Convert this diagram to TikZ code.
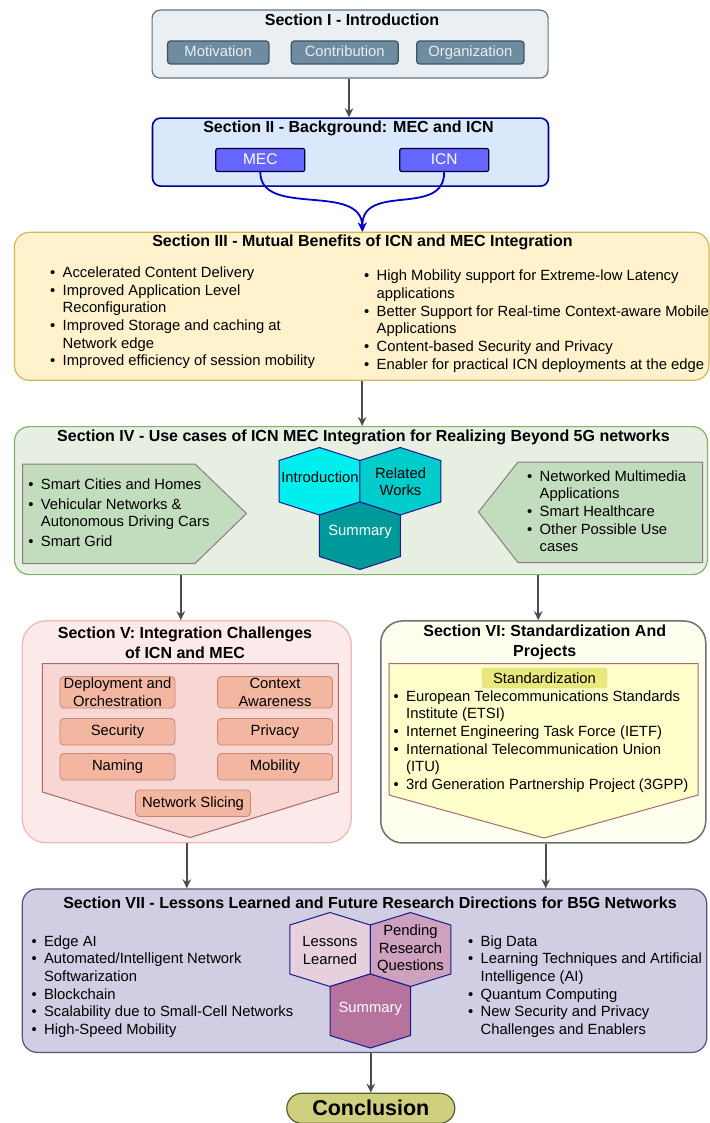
\documentclass[tikz,border=0pt]{standalone}
\usepackage{fontspec}
\setmainfont{Liberation Sans}
\usetikzlibrary{arrows.meta,calc}
\definecolor{cIf}{HTML}{EBEFF2}\definecolor{cId}{HTML}{5B7487}
\definecolor{cSubf}{HTML}{6F8BA0}\definecolor{cSubd}{HTML}{3B5468}\definecolor{cSubt}{HTML}{E8EEF2}
\definecolor{cIIf}{HTML}{DAE8FC}\definecolor{cIId}{HTML}{000099}
\definecolor{cMecf}{HTML}{6666FF}\definecolor{cMecd}{HTML}{000033}
\definecolor{cCurve}{HTML}{0000CC}
\definecolor{cIIIf}{HTML}{FFF2CC}\definecolor{cIIId}{HTML}{D6B656}
\definecolor{cIVf}{HTML}{E6EFE2}\definecolor{cIVd}{HTML}{82B366}
\definecolor{cPentf}{HTML}{C2DDBD}\definecolor{cPentd}{HTML}{8F7A78}
\definecolor{cHexd}{HTML}{1A1A8C}
\definecolor{cIntro}{HTML}{00EEEE}\definecolor{cRel}{HTML}{00CCCC}\definecolor{cSumA}{HTML}{009999}
\definecolor{cVf}{HTML}{FBEAE9}\definecolor{cVd}{HTML}{EBB8B5}
\definecolor{cVinf}{HTML}{F8D6D4}\definecolor{cInd}{HTML}{A86A6A}
\definecolor{cVboxf}{HTML}{F3B7A1}\definecolor{cVboxd}{HTML}{C28673}
\definecolor{cVIf}{HTML}{FFFFF0}\definecolor{cVId}{HTML}{6E6E6E}
\definecolor{cVIinf}{HTML}{FFFFCC}
\definecolor{cStdf}{HTML}{E8E87D}\definecolor{cStdd}{HTML}{D9D96C}
\definecolor{cVIIf}{HTML}{D0CEE2}\definecolor{cVIId}{HTML}{56517E}
\definecolor{cLes}{HTML}{E6D0DE}\definecolor{cPen}{HTML}{CDA2BE}\definecolor{cSumB}{HTML}{B5739D}
\definecolor{cConf}{HTML}{CFCF80}\definecolor{cCond}{HTML}{5C5C2A}
\definecolor{cArr}{HTML}{4D4D4D}
\newcommand{\bl}{\rule{0pt}{12.4pt}\makebox[12.5pt][l]{\textbullet}}
\newcommand{\ind}{\hspace*{12.5pt}}
\begin{document}
\begin{tikzpicture}[x=1pt,y=-1pt,
  every node/.style={inner sep=0pt},
  secbox/.style={anchor=north west, line width=1.2pt},
  ttl/.style={font=\fontsize{16}{19.6}\selectfont\bfseries, align=center},
  lst/.style={anchor=north west, align=left, font=\fontsize{14.8}{17.7}\selectfont},
  subI/.style={draw=cSubd, fill=cSubf, text=cSubt, line width=1.2pt, rounded corners=3pt, minimum height=23pt, text height=10.6pt, text depth=3.1pt, font=\fontsize{14.8}{17.7}\selectfont},
  mecbox/.style={draw=cMecd, fill=cMecf, text=white, line width=1.2pt, rounded corners=2pt, minimum width=89pt, minimum height=23pt, text height=11pt, text depth=1.5pt, font=\fontsize{15.5}{18}\selectfont},
  vbox/.style={draw=cVboxd, fill=cVboxf, line width=0.8pt, rounded corners=4pt, minimum width=115pt, align=center, font=\fontsize{14.8}{17.5}\selectfont},
  hexs/.style={draw=cHexd, line width=1pt},
  hext/.style={align=center, font=\fontsize{14.8}{17.5}\selectfont},
  pent/.style={draw=cPentd, fill=cPentf, line width=1pt},
  inner/.style={draw=cInd, line width=1pt},
  arr/.style={draw=cArr, line width=1.6pt, -{Stealth[length=9pt,width=8.5pt]}},
  barr/.style={draw=cCurve, line width=1.8pt, -{Stealth[length=9pt,width=8.5pt]}}]
\useasboundingbox[fill=white] (0,0) rectangle (709,1123);

% ---------- Section I
\node[secbox, fill=cIf, draw=cId, rounded corners=8pt, minimum width=396pt, minimum height=68pt] (s1) at (151.5,9.5) {};
\node[ttl] (t1) at (352,20) {Section I - Introduction};
\node[subI, minimum width=101.5pt] (mot) at (218.2,52.5) {Motivation};
\node[subI, minimum width=107pt] (con) at (344.7,52.5) {Contribution};
\node[subI, minimum width=107.3pt] (org) at (470.3,52.5) {Organization};

% ---------- Section II
\node[secbox, fill=cIIf, draw=cIId, line width=1.6pt, rounded corners=8pt, minimum width=396pt, minimum height=68pt] (s2) at (151.7,117.3) {};
\node[ttl] (t2) at (348.5,128) {Section II - Background: MEC and ICN};
\node[mecbox] (mec) at (260.3,160) {MEC};
\node[mecbox] (icn) at (444.2,160) {ICN};

% ---------- Section III
\node[secbox, fill=cIIIf, draw=cIIId, rounded corners=15pt, minimum width=694.5pt, minimum height=148pt] (s3) at (13.8,231.7) {};
\node[ttl] (t3) at (362.5,242) {Section III - Mutual Benefits of ICN and MEC Integration};
\node[lst] (l3a) at (50,264.8) {\bl Accelerated Content Delivery\\
\bl Improved Application Level\\ \ind Reconfiguration\\
\bl Improved Storage and caching at\\ \ind Network edge\\
\bl Improved efficiency of session mobility};
\node[lst] (l3b) at (364,268.2) {\bl High Mobility support for Extreme-low Latency\\ \ind applications\\
\bl Better Support for Real-time Context-aware Mobile\\ \ind Applications\\
\bl Content-based Security and Privacy\\
\bl Enabler for practical ICN deployments at the edge};

% blue curves
\draw[barr] (mec.south) .. controls ([yshift=-46pt]mec.south) and ([yshift=50pt]s3.north) .. ([xshift=0.75pt]s3.north);
\draw[barr] (icn.south) .. controls ([yshift=-46pt]icn.south) and ([yshift=50pt]s3.north) .. ([xshift=0.75pt]s3.north);

% ---------- Section IV
\node[secbox, fill=cIVf, draw=cIVd, rounded corners=15pt, minimum width=693pt, minimum height=148pt] (s4) at (13.8,426) {};
\node[ttl] (t4) at (363.5,437) {Section IV - Use cases of ICN MEC Integration for Realizing Beyond 5G networks};
\draw[pent] (22.5,464) -- (195,464) -- (246.5,513.5) -- (195,563.5) -- (22.5,563.5) -- cycle;
\draw[pent] (478.5,512) -- (518,462) -- (702.5,462) -- (702.5,562.5) -- (518,562.5) -- cycle;
\node[lst] (l4a) at (28.2,476.8) {\bl Smart Cities and Homes\\[2pt]
\bl Vehicular Networks \&\\ \ind Autonomous Driving Cars\\[2pt]
\bl Smart Grid};
\node[lst] (l4b) at (527,468.5) {\bl Networked Multimedia\\ \ind Applications\\
\bl Smart Healthcare\\
\bl Other Possible Use\\ \ind cases};
\draw[hexs, fill=cIntro] (319.5,447.5) -- ++(40.5,13) -- ++(0,41.5) -- ++(-40.5,13) -- ++(-40.5,-13) -- ++(0,-41.5) -- cycle;
\draw[hexs, fill=cRel] (400.25,447.5) -- ++(40.5,13) -- ++(0,41.5) -- ++(-40.5,13) -- ++(-40.5,-13) -- ++(0,-41.5) -- cycle;
\draw[hexs, fill=cSumA] (359.9,502) -- ++(40.5,13) -- ++(0,41.5) -- ++(-40.5,13) -- ++(-40.5,-13) -- ++(0,-41.5) -- cycle;
\node[hext] (hintro) at (320,477) {Introduction};
\node[hext] (hrel) at (400.5,481.5) {Related\\Works};
\node[hext, text=white] (hsum1) at (360,532) {Summary};

% ---------- Section V
\node[secbox, fill=cVf, draw=cVd, rounded corners=24pt, minimum width=329pt, minimum height=222pt] (s5) at (21.7,620.2) {};
\node[ttl] (t5) at (185,642.5) {Section V: Integration Challenges\\of ICN and MEC};
\draw[inner, fill=cVinf] (42.3,663.5) -- (338.3,663.5) -- (338.3,792) -- (190,837.5) -- (42.3,792) -- cycle;
\node[vbox, minimum height=31.5pt] (dep) at (117.5,692.3) {Deployment and\\Orchestration};
\node[vbox, minimum height=31.5pt] (ctx) at (275,692.3) {Context\\Awareness};
\node[vbox, minimum height=26.5pt] (sec) at (117.5,731.8) {Security};
\node[vbox, minimum height=26.5pt] (pri) at (275,731.8) {Privacy};
\node[vbox, minimum height=26.5pt] (nam) at (117.5,766.8) {Naming};
\node[vbox, minimum height=26.5pt] (mob) at (275,766.8) {Mobility};
\node[vbox, minimum height=26.5pt] (nsl) at (193,803.3) {Network Slicing};

% ---------- Section VI
\node[secbox, fill=cVIf, draw=cVId, line width=1.5pt, rounded corners=22pt, minimum width=325pt, minimum height=222pt] (s6) at (380,620.2) {};
\node[ttl] (t6) at (544.7,642.5) {Section VI: Standardization And\\Projects};
\draw[inner, fill=cVIinf] (389,663.5) -- (698,663.5) -- (698,795) -- (544,838) -- (389,795) -- cycle;
\node[draw=cStdd, fill=cStdf, rounded corners=3pt, minimum width=125pt, minimum height=20pt, font=\fontsize{14.8}{17.7}\selectfont] (std) at (544.5,678) {Standardization};
\node[lst] (l6) at (393.5,688.5) {\bl European Telecommunications Standards\\ \ind Institute (ETSI)\\
\bl Internet Engineering Task Force (IETF)\\
\bl International Telecommunication Union\\ \ind (ITU)\\
\bl 3rd Generation Partnership Project (3GPP)};

% ---------- Section VII
\node[secbox, fill=cVIIf, draw=cVIId, rounded corners=15pt, minimum width=684.5pt, minimum height=163.5pt] (s7) at (21.7,888.3) {};
\node[ttl] (t7) at (370,902.7) {Section VII - Lessons Learned and Future Research Directions for B5G Networks};
\node[lst] (l7a) at (31.4,933.5) {\bl Edge AI\\
\bl Automated/Intelligent Network\\ \ind Softwarization\\
\bl Blockchain\\
\bl Scalability due to Small-Cell Networks\\
\bl High-Speed Mobility};
\node[lst] (l7b) at (468,933.5) {\bl Big Data\\
\bl Learning Techniques and Artificial\\ \ind Intelligence (AI)\\
\bl Quantum Computing\\
\bl New Security and Privacy\\ \ind Challenges and Enablers};
\draw[hexs, fill=cLes] (330,912.5) -- ++(40.25,12.5) -- ++(0,49) -- ++(-40.25,12.5) -- ++(-40.25,-12.5) -- ++(0,-49) -- cycle;
\draw[hexs, fill=cPen] (410.5,912.5) -- ++(40.25,12.5) -- ++(0,49) -- ++(-40.25,12.5) -- ++(-40.25,-12.5) -- ++(0,-49) -- cycle;
\draw[hexs, fill=cSumB] (370.25,974) -- ++(40.25,12.5) -- ++(0,49) -- ++(-40.25,12.5) -- ++(-40.25,-12.5) -- ++(0,-49) -- cycle;
\node[hext] (hles) at (330,950.5) {Lessons\\Learned};
\node[hext] (hpen) at (410.5,949.5) {Pending\\Research\\Questions};
\node[hext, text=white] (hsum2) at (370.25,1009) {Summary};

% ---------- Conclusion
\node[draw=cCond, fill=cConf, line width=1.2pt, rounded corners=15pt, minimum width=168pt, minimum height=30pt, font=\fontsize{21.5}{24}\selectfont\bfseries] (concl) at (370.8,1108.3) {Conclusion};

% ---------- arrows
\draw[arr] (s1.south -| t1.south) ++(-3pt,0) coordinate (a1) -- (a1 |- s2.north);
\draw[arr] ([xshift=0.5pt]s3.south) -- ([xshift=0.5pt]s3.south |- s4.north);
\draw[arr] ([xshift=-6pt]s5.north |- s4.south) -- ([xshift=-6pt]s5.north);
\draw[arr] ([xshift=-5pt]s6.north |- s4.south) -- ([xshift=-5pt]s6.north);
\draw[arr] (s5.south |- s5.south) -- (s5.south |- s7.north);
\draw[arr] ([xshift=2.5pt]s6.south) -- ([xshift=2.5pt]s6.south |- s7.north);
\draw[arr] (concl.north |- s7.south) -- (concl.north);
\end{tikzpicture}
\end{document}
